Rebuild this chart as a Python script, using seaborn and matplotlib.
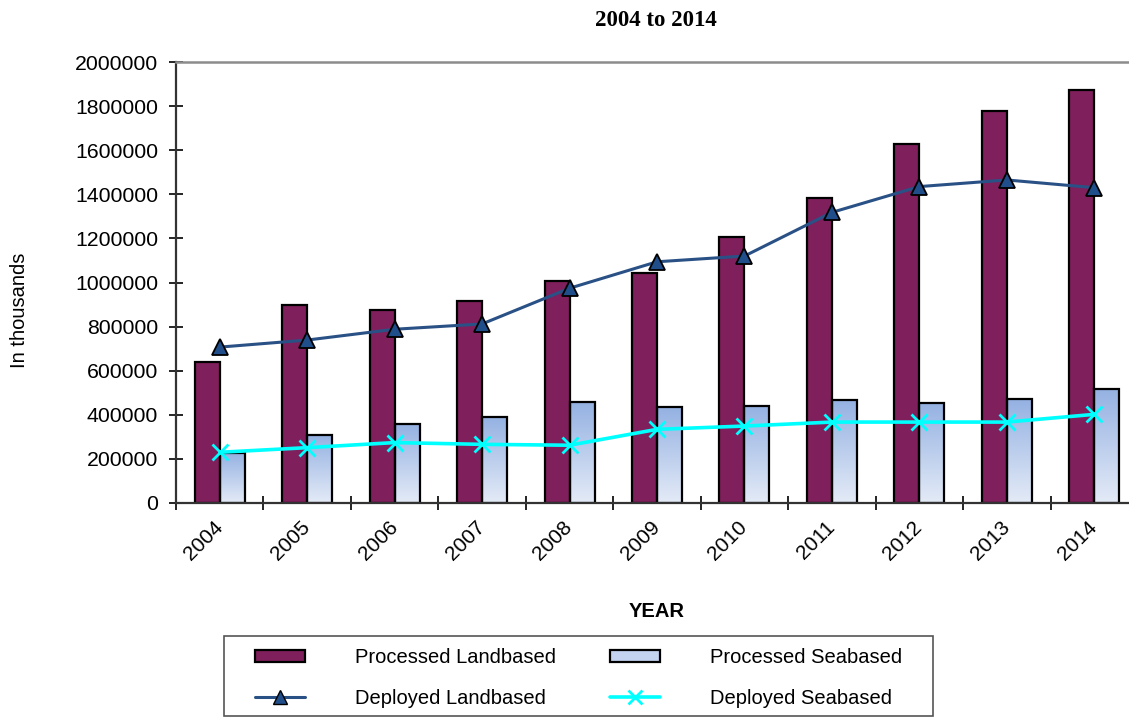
import matplotlib
matplotlib.use("Agg")
import matplotlib.pyplot as plt
from matplotlib.patches import Patch, Rectangle
from matplotlib.lines import Line2D
import numpy as np
import pandas as pd
import seaborn as sns

# data
years = ["2004", "2005", "2006", "2007", "2008", "2009", "2010", "2011", "2012", "2013", "2014"]
processed_land = [639000, 899000, 877000, 916000, 1006000, 1044000, 1208000, 1385000, 1630000, 1776000, 1873000]
processed_sea = [228000, 308000, 357000, 391000, 460000, 435000, 440000, 469000, 454000, 470000, 518000]
deployed_land = [707000, 739000, 788000, 812000, 974000, 1094000, 1120000, 1318000, 1435000, 1465000, 1430000]
deployed_sea = [230000, 251000, 274000, 266000, 262000, 334000, 349000, 367000, 367000, 367000, 402000]

land_color = "#7f1f5c"
sea_top = "#94b1e2"
sea_bottom = "#e4ebf7"
dland_color = "#2a5185"

sns.set_style("white")
plt.rcParams["font.family"] = ["Liberation Sans", "DejaVu Sans"]
plt.rcParams["text.color"] = "black"
plt.rcParams["xtick.color"] = "black"
plt.rcParams["ytick.color"] = "black"
plt.rcParams["axes.labelcolor"] = "black"

bars_df = pd.DataFrame({
    "year": years * 2,
    "value": processed_land + processed_sea,
    "series": ["Processed Landbased"] * len(years) + ["Processed Seabased"] * len(years),
})

fig = plt.figure(figsize=(11.29, 7.18), dpi=100)
W, H = 1129, 718
ax = fig.add_axes([176 / W, (H - 503) / H, (1138 - 176) / W, 441 / H])

sns.barplot(data=bars_df, x="year", y="value", hue="series",
            palette=[land_color, sea_top], width=0.572, edgecolor="black",
            linewidth=1.6, legend=False, ax=ax, saturation=1)

# gradient fill for the seabased bars
grad = np.linspace(0, 1, 256).reshape(-1, 1)
cmap = matplotlib.colors.LinearSegmentedColormap.from_list("sea", [sea_bottom, sea_top])
n = len(years)
for p in ax.patches[n:2 * n]:
    x0, y0 = p.get_x(), p.get_y()
    w, h = p.get_width(), p.get_height()
    p.set_facecolor("none")
    im = ax.imshow(grad, cmap=cmap, extent=[x0, x0 + w, y0, y0 + h],
                   origin="lower", aspect="auto", zorder=p.get_zorder() - 0.1)
    im.set_clip_path(p)

xs = np.arange(n)
sns.lineplot(x=xs, y=deployed_land, ax=ax, color=dland_color, linewidth=2.2,
             marker="^", markersize=11, markerfacecolor="#1f4e8a",
             markeredgecolor="black", markeredgewidth=1.3, zorder=5)
sns.lineplot(x=xs, y=deployed_sea, ax=ax, color="#00ffff", linewidth=2.6,
             marker="x", markersize=11, markeredgewidth=2,
             markeredgecolor="#00ffff", zorder=5)

ax.set_xlim(-0.5, n - 0.5)
ax.set_ylim(0, 2000000)
ax.set_yticks(np.arange(0, 2000001, 200000))
ax.set_yticklabels([str(v) for v in range(0, 2000001, 200000)], fontsize=15.3)
ax.set_xticks(np.arange(n))
ax.set_xticklabels(years, fontsize=15, rotation=45, ha="right",
                   rotation_mode="anchor", va="center")
ax.tick_params(axis="x", which="major", bottom=False, length=0, pad=15)
ax.tick_params(axis="y", which="major", left=True, direction="inout",
               length=10, width=1.2, pad=8)
# category boundary ticks on the x axis
ax.set_xticks(np.arange(n + 1) - 0.5, minor=True)
ax.tick_params(axis="x", which="minor", bottom=True, direction="inout",
               length=10, width=1.2)

for s in ["left", "bottom"]:
    ax.spines[s].set_color("#333333")
    ax.spines[s].set_linewidth(1.6)
ax.spines["top"].set_color("#8c8c8c")
ax.spines["top"].set_linewidth(1.8)
ax.spines["right"].set_visible(False)

ax.set_xlabel("YEAR", fontsize=14.5, fontweight="bold", labelpad=28)
ax.set_ylabel("")
fig.text(20 / W, 1 - 310 / H, "In thousands", rotation=90, fontsize=14.5,
         ha="center", va="center")
fig.text(656 / W, 1 - 20 / H, "2004 to 2014", fontsize=16.5, fontweight="bold",
         family=["Liberation Serif", "DejaVu Serif"], ha="center", va="center")

handles = [
    Patch(facecolor=land_color, edgecolor="black", linewidth=1.6),
    Line2D([], [], color=dland_color, linewidth=2.2, marker="^", markersize=10,
           markerfacecolor="#1f4e8a", markeredgecolor="black"),
    Patch(facecolor="#c3d3f0", edgecolor="black", linewidth=1.6),
    Line2D([], [], color="#00ffff", linewidth=2.6, marker="x", markersize=10,
           markeredgewidth=2, markeredgecolor="#00ffff"),
]
labels = ["Processed Landbased", "Deployed Landbased",
          "Processed Seabased", "Deployed Seabased"]
fs = 14.5
em = fs * 100 / 72
leg = fig.legend(handles, labels, ncol=2, loc="upper left",
                 bbox_to_anchor=(255 / W, 1 - 648 / H), borderaxespad=0,
                 borderpad=0, fontsize=fs, frameon=False,
                 handlelength=50 / em, handleheight=0.6, handletextpad=50 / em,
                 columnspacing=54 / em, labelspacing=1.1)
fig.patches.append(Rectangle((224 / W, 2 / H), 709 / W, 80 / H,
                             transform=fig.transFigure, fill=False,
                             edgecolor="#555555", linewidth=1.2))

fig.savefig("out.png", dpi=100)
